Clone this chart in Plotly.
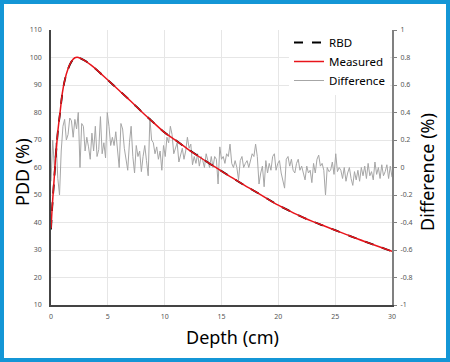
import plotly.graph_objects as go

# ---- data ----
pdd_depth = [0, 0.1, 0.2, 0.3, 0.4, 0.5, 0.6, 0.8, 1.0, 1.2, 1.5, 1.8, 2.1, 2.3, 2.6, 3.0, 3.5, 4.0,
             5, 6, 7, 8, 9, 10, 11, 12, 13, 14, 15, 16, 17, 18, 19, 20, 21, 22, 23, 24, 25, 26, 27, 28, 29, 30]
rbd = [37.5, 45, 51, 57, 63, 68, 73, 80, 87, 91.5, 95.8, 98.5, 99.8, 100, 99.7, 98.8, 97.3, 95.6,
       91.8, 88.0, 84.2, 80.2, 76.4, 72.7, 69.8, 66.8, 64.0, 61.3, 58.7, 56.1, 53.6, 51.2, 48.7, 46.3,
       44.2, 42.2, 40.4, 38.8, 37.2, 35.6, 34.0, 32.5, 31.0, 29.5]
measured = [37.8, 45.3, 51.2, 57.2, 63.2, 68.2, 73.1, 80.1, 87.1, 91.6, 95.9, 98.6, 99.9, 100.1, 99.7, 98.8, 97.3, 95.6,
            91.8, 88.0, 84.2, 80.2, 76.4, 72.7, 69.8, 66.8, 64.0, 61.3, 58.7, 56.1, 53.6, 51.2, 48.7, 46.3,
            44.2, 42.2, 40.4, 38.8, 37.2, 35.6, 34.0, 32.5, 31.0, 29.5]

diff_step = 0.15
difference = [
    -0.10, 0.20, 0.00, 0.18, -0.08, -0.20, 0.12, 0.30, 0.35, 0.20,
    0.24, 0.36, 0.34, 0.22, 0.35, 0.28, 0.40, 0.00, 0.32, 0.30,
    0.12, 0.22, 0.15, 0.06, 0.25, 0.12, 0.30, 0.08, 0.13, 0.37,
    0.10, 0.18, 0.07, 0.40, 0.30, 0.16, 0.22, 0.16, 0.26, 0.11,
    0.00, 0.32, 0.28, 0.14, 0.05, -0.02, 0.18, 0.30, 0.08, -0.04,
    0.16, 0.08, 0.12, -0.03, 0.08, 0.16, 0.05, -0.06, 0.36, 0.20,
    0.18, 0.10, 0.15, 0.06, 0.12, -0.02, 0.16, 0.08, 0.22, 0.18,
    0.30, 0.24, 0.10, 0.14, 0.18, 0.04, 0.10, 0.14, 0.06, 0.12,
    0.22, 0.14, 0.17, 0.02, 0.08, 0.03, 0.10, 0.01, 0.08, 0.05,
    0.00, 0.10, 0.05, 0.00, 0.08, 0.00, 0.08, 0.06, -0.12, 0.15,
    0.06, 0.08, 0.03, 0.10, 0.08, 0.17, 0.03, 0.00, 0.05, 0.00,
    -0.09, 0.05, 0.08, 0.00, 0.03, 0.05, 0.00, 0.05, 0.10, 0.08,
    0.17, 0.08, -0.12, -0.04, 0.01, -0.14, 0.05, -0.04, 0.03, -0.02,
    0.08, 0.10, -0.02, 0.03, 0.05, -0.04, -0.09, -0.15, 0.06, 0.08,
    0.01, 0.06, -0.02, -0.04, 0.03, 0.06, -0.02, 0.01, -0.04, -0.09,
    0.01, -0.04, -0.02, -0.11, 0.03, -0.04, 0.06, 0.09, 0.01, 0.03,
    -0.02, -0.20, 0.00, -0.03, -0.02, 0.04, -0.05, 0.10, -0.03, 0.00,
    -0.02, -0.08, 0.00, -0.10, -0.04, 0.00, -0.08, -0.13, -0.03, -0.09,
    -0.02, -0.10, 0.00, -0.06, 0.01, -0.08, 0.03, -0.06, -0.03, -0.09,
    0.04, -0.05, 0.00, -0.08, 0.02, -0.06, -0.03, 0.02, -0.08, 0.01,
    -0.07,
]
diff_depth = [round(i * diff_step, 2) for i in range(len(difference))]

x_ticks = [0, 5, 10, 15, 20, 25, 30]
pdd_ticks = [10, 20, 30, 40, 50, 60, 70, 80, 90, 100, 110]
diff_ticks = [-1, -0.8, -0.6, -0.4, -0.2, 0, 0.2, 0.4, 0.6, 0.8, 1]
diff_tick_text = ["-1", "-0.8", "-0.6", "-0.4", "-0.2", "0", "0.2", "0.4", "0.6", "0.8", "1"]

# ---- layout geometry (pixels) ----
W, H = 450, 362
ML, MR, MT, MB = 51, 58, 30, 57
PW, PH = W - ML - MR, H - MT - MB


def px_x(p):
    return (p - ML) / PW


def px_y(p):
    return (H - MB - p) / PH


FONT = "Noto Sans"
BLUE = "#1496d6"

fig = go.Figure()
fig.add_trace(go.Scatter(x=pdd_depth, y=rbd, name="RBD", mode="lines", yaxis="y2",
                         line=dict(color="black", width=1.8, dash="dash", shape="spline")))
fig.add_trace(go.Scatter(x=pdd_depth, y=measured, name="Measured", mode="lines", yaxis="y2",
                         line=dict(color="#e8141b", width=1.5, shape="spline")))
fig.add_trace(go.Scatter(x=diff_depth, y=difference, name="Difference", mode="lines", yaxis="y",
                         line=dict(color="#a6a6a6", width=1)))

tickfont = dict(family=FONT, size=7, color="#555555")

fig.update_layout(
    width=W, height=H,
    margin=dict(l=ML, r=MR, t=MT, b=MB),
    paper_bgcolor="white", plot_bgcolor="white",
    showlegend=True,
    legend=dict(x=px_x(289), y=px_y(28), xanchor="left", yanchor="top",
                bgcolor="white", font=dict(family=FONT, size=11.5, color="black"),
                tracegroupgap=0, itemwidth=30),
    xaxis=dict(range=[0, 30], tickvals=x_ticks, showgrid=True, gridcolor="#e6e6e6", gridwidth=1,
               showline=True, linecolor="#444444", linewidth=1.5, ticks="", tickfont=tickfont,
               ticklabelstandoff=4, zeroline=False, anchor="y"),
    yaxis=dict(range=[-1, 1], tickvals=diff_ticks, ticktext=diff_tick_text, side="right",
               showgrid=True, gridcolor="#e6e6e6", gridwidth=1, zeroline=False,
               showline=True, linecolor="#808080", linewidth=2,
               ticks="outside", ticklen=3, tickcolor="#808080", tickwidth=1, tickfont=tickfont,
               ticklabelstandoff=2),
    yaxis2=dict(range=[10, 110], tickvals=pdd_ticks, side="left", overlaying="y",
                showgrid=False, zeroline=False, showline=True, linecolor="#444444", linewidth=1.5,
                ticks="", tickfont=tickfont, ticklabelstandoff=6),
)

title_font = dict(family=FONT, size=18, color="black")
fig.add_annotation(text="PDD (%)", xref="paper", yref="paper", x=px_x(22), y=px_y(172),
                   textangle=-90, showarrow=False, font=title_font, xanchor="center", yanchor="middle")
fig.add_annotation(text="Difference (%)", xref="paper", yref="paper", x=px_x(427), y=px_y(172),
                   textangle=-90, showarrow=False, font=title_font, xanchor="center", yanchor="middle")
fig.add_annotation(text="Depth (cm)", xref="paper", yref="paper", x=px_x(232), y=px_y(337),
                   showarrow=False, font=title_font, xanchor="center", yanchor="middle")

# blue frame
fig.add_shape(type="rect", xref="paper", yref="paper",
              x0=px_x(2), x1=px_x(448), y0=px_y(360), y1=px_y(2),
              line=dict(color=BLUE, width=4), fillcolor="rgba(0,0,0,0)", layer="above")

fig.write_html("out.html", config={"displayModeBar": False},
               post_script="document.body.style.margin='0';document.body.style.overflow='hidden';")
